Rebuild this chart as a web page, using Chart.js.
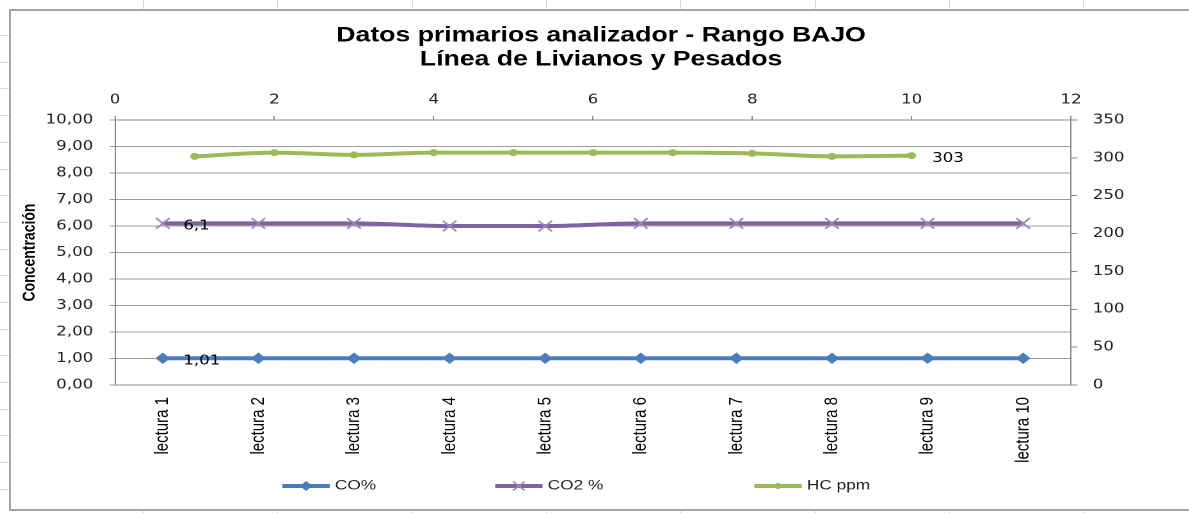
<!DOCTYPE html>
<html>
<head>
<meta charset="utf-8">
<title>Datos primarios analizador - Rango BAJO</title>
<script src="https://cdn.jsdelivr.net/npm/chart.js@4.4.1/dist/chart.umd.min.js"></script>
<style>
  html, body { margin: 0; padding: 0; }
  body { width: 1189px; height: 513px; position: relative; overflow: hidden; background: #fff; }
  .cell-line { position: absolute; background: #dadada; }
  #frame {
    position: absolute; left: 9px; top: 9px;
    width: 1190px; height: 498px;
    border: 2px solid #a6a6a6; background: #fff; overflow: hidden;
  }
  /* the source screenshot is stretched sideways, so the chart is too */
  #wrap {
    position: absolute; left: 0; top: 0;
    width: 922px; height: 498px;
    transform: scaleX(1.28); transform-origin: 0 0;
  }
</style>
</head>
<body>
<div id="sheet"></div>
<div id="frame"><div id="wrap"><canvas id="chart"></canvas></div></div>

<script>
// Chart data
const categories = ['lectura 1', 'lectura 2', 'lectura 3', 'lectura 4', 'lectura 5',
                    'lectura 6', 'lectura 7', 'lectura 8', 'lectura 9', 'lectura 10'];
const coValues  = [1.01, 1.01, 1.01, 1.01, 1.01, 1.01, 1.01, 1.01, 1.01, 1.01];
const co2Values = [6.1, 6.1, 6.1, 6.0, 6.0, 6.1, 6.1, 6.1, 6.1, 6.1];
const hcPositions = [1, 2, 3, 4, 5, 6, 7, 8, 9, 10];
const hcValues  = [302, 307, 304, 307, 307, 307, 307, 306, 302, 303];

// spreadsheet cells behind the chart
const sheet = document.getElementById('sheet');
function cellLine(l, t, w, h) {
  const d = document.createElement('div');
  d.className = 'cell-line';
  d.style.cssText = `left:${l}px;top:${t}px;width:${w}px;height:${h}px`;
  sheet.appendChild(d);
}
for (let x = 143; x < 1189; x += 134.3) {
  cellLine(Math.round(x), 0, 1, 9);
  cellLine(Math.round(x), 511, 1, 2);
}
for (let y = 35; y < 513; y += 26.7) cellLine(0, Math.round(y), 9, 1);

const fmt = v => String(v).replace('.', ',');

// values printed next to single points
const pointLabels = {
  id: 'pointLabels',
  afterDatasetsDraw(chart, args, opts) {
    const ctx = chart.ctx;
    ctx.save();
    ctx.font = opts.font;
    ctx.fillStyle = opts.color;
    ctx.textAlign = 'left';
    ctx.textBaseline = 'middle';
    chart.data.datasets.forEach((ds, i) => {
      if (ds.labelIndex === undefined) return;
      const el = chart.getDatasetMeta(i).data[ds.labelIndex];
      const raw = ds.data[ds.labelIndex];
      const v = typeof raw === 'object' ? raw.y : raw;
      ctx.fillText(fmt(v), el.x + opts.dx, el.y + opts.dy);
    });
    ctx.restore();
  }
};

// Excel style legend: line with marker, then the name
const sheetLegend = {
  id: 'sheetLegend',
  afterDraw(chart, args, opts) {
    const ctx = chart.ctx;
    ctx.save();
    ctx.font = opts.font;
    ctx.textBaseline = 'middle';
    let x = opts.x;
    const y = opts.y;
    chart.data.datasets.forEach((ds, i) => {
      ctx.strokeStyle = ds.borderColor;
      ctx.lineWidth = ds.borderWidth;
      ctx.beginPath();
      ctx.moveTo(x, y);
      ctx.lineTo(x + opts.lineLength, y);
      ctx.stroke();

      ctx.fillStyle = ds.pointBackgroundColor;
      ctx.strokeStyle = ds.pointBorderColor;
      ctx.lineWidth = ds.pointBorderWidth;
      Chart.helpers.drawPoint(ctx, {
        pointStyle: ds.pointStyle,
        radius: ds.pointRadius * 0.85,
        borderWidth: ds.pointBorderWidth,
        rotation: 0
      }, x + opts.lineLength / 2, y);

      const tx = x + opts.lineLength + opts.textGap;
      ctx.fillStyle = opts.color;
      ctx.fillText(ds.label, tx, y);
      x = tx + ctx.measureText(ds.label).width + (opts.gaps[i] || 0);
    });
    ctx.restore();
  }
};

const tickFont = { family: 'DejaVu Sans', size: 13 };
const axisGray = '#8a8a8a';

new Chart(document.getElementById('chart'), {
  type: 'line',
  data: {
    labels: categories,
    datasets: [
      {
        label: 'CO%',
        data: coValues,
        xAxisID: 'x',
        yAxisID: 'y',
        borderColor: '#4a7ebb',
        borderWidth: 4,
        pointStyle: 'rectRot',
        pointRadius: 5,
        pointBackgroundColor: '#4a7ebb',
        pointBorderColor: '#4a7ebb',
        pointBorderWidth: 1,
        labelIndex: 0
      },
      {
        label: 'CO2 %',
        data: co2Values,
        xAxisID: 'x',
        yAxisID: 'y',
        borderColor: '#7f63a1',
        borderWidth: 4,
        cubicInterpolationMode: 'monotone',
        pointStyle: 'crossRot',
        pointRadius: 7.5,
        pointBackgroundColor: '#9a85bb',
        pointBorderColor: '#9a85bb',
        pointBorderWidth: 1.5,
        labelIndex: 0
      },
      {
        label: 'HC ppm',
        data: hcPositions.map((x, i) => ({ x, y: hcValues[i] })),
        xAxisID: 'x2',
        yAxisID: 'y2',
        borderColor: '#9bbb59',
        borderWidth: 4,
        cubicInterpolationMode: 'monotone',
        pointStyle: 'circle',
        pointRadius: 3,
        pointBackgroundColor: '#9bbb59',
        pointBorderColor: '#9bbb59',
        pointBorderWidth: 1,
        labelIndex: 9
      }
    ]
  },
  options: {
    responsive: true,
    maintainAspectRatio: false,
    animation: false,
    devicePixelRatio: 2,
    layout: { padding: { left: 0, right: 0, top: 0, bottom: 44 } },
    plugins: {
      legend: { display: false },
      tooltip: { enabled: false },
      title: {
        display: true,
        text: ['Datos primarios analizador - Rango BAJO', 'Línea de Livianos y Pesados'],
        color: '#000',
        font: { family: 'Liberation Sans', size: 20.8, weight: 'bold', lineHeight: 1.15 },
        padding: { top: 13, bottom: 10 }
      },
      pointLabels: { font: '13px "DejaVu Sans"', color: '#000', dx: 16, dy: 3 },
      sheetLegend: {
        font: '13.5px "Liberation Sans"', color: '#222',
        x: 212, y: 475, lineLength: 37, textGap: 4, gaps: [93, 118]
      }
    },
    scales: {
      x: {
        type: 'category',
        position: 'bottom',
        offset: true,
        grid: { display: false, drawTicks: false },
        border: { display: true, color: axisGray },
        ticks: {
          autoSkip: false, minRotation: 90, maxRotation: 90, padding: 12,
          color: '#000', font: { family: 'Liberation Sans', size: 15 }
        },
        afterFit: s => { s.height = 80; }
      },
      x2: {
        type: 'linear',
        position: 'top',
        min: 0, max: 12,
        grid: { drawOnChartArea: false, tickLength: 4, color: axisGray },
        border: { color: axisGray },
        ticks: { stepSize: 2, padding: 8, color: '#222', font: tickFont },
        afterFit: s => { s.height = 38.2; }
      },
      y: {
        position: 'left',
        min: 0, max: 10,
        grid: { color: '#9a9a9a', tickLength: 4 },
        border: { color: axisGray },
        ticks: {
          stepSize: 1, padding: 13, color: '#222', font: tickFont,
          callback: v => v.toFixed(2).replace('.', ',')
        },
        title: {
          display: true, text: 'Concentración', color: '#000',
          font: { family: 'Liberation Sans', size: 14, weight: 'bold' },
          padding: { top: 6, bottom: 0 }
        },
        afterFit: s => { s.width = 81.25; }
      },
      y2: {
        position: 'right',
        min: 0, max: 350,
        grid: { drawOnChartArea: false, tickLength: 5, color: axisGray },
        border: { color: axisGray },
        ticks: { stepSize: 50, padding: 12, color: '#222', font: tickFont },
        afterFit: s => { s.width = 93.9; }
      }
    }
  },
  plugins: [pointLabels, sheetLegend]
});
</script>
</body>
</html>
